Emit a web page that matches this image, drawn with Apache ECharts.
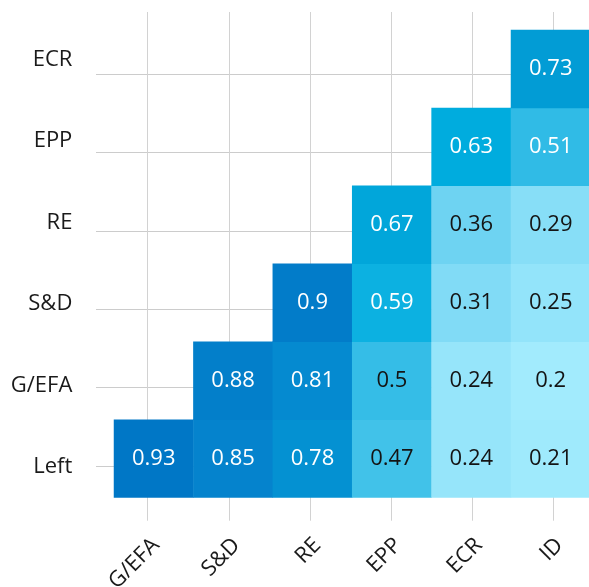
<!DOCTYPE html>
<html>
<head>
<meta charset="utf-8">
<script src="https://cdn.jsdelivr.net/npm/echarts@6/dist/echarts.min.js"></script>
<style>
html,body{margin:0;padding:0;background:#fff;}
#chart{width:589px;height:587px;}
</style>
</head>
<body>
<div id="chart"></div>
<script>
const xCategories = ['G/EFA', 'S&D', 'RE', 'EPP', 'ECR', 'ID'];
const yCategories = ['Left', 'G/EFA', 'S&D', 'RE', 'EPP', 'ECR'];
const rowLeft = [0.93, 0.85, 0.78, 0.47, 0.24, 0.21];
const rowGEFA = [null, 0.88, 0.81, 0.5, 0.24, 0.2];
const rowSD   = [null, null, 0.9, 0.59, 0.31, 0.25];
const rowRE   = [null, null, null, 0.67, 0.36, 0.29];
const rowEPP  = [null, null, null, null, 0.63, 0.51];
const rowECR  = [null, null, null, null, null, 0.73];
const rows = [rowLeft, rowGEFA, rowSD, rowRE, rowEPP, rowECR];

const FONT = '"Open Sans", sans-serif';
const data = [];
rows.forEach((row, yi) => {
  row.forEach((v, xi) => {
    if (v === null) return;
    data.push({
      value: [xi, yi, v],
      label: { color: v > 0.505 ? '#ffffff' : '#141414' }
    });
  });
});

const hiddenAxis = (extra) => Object.assign({
  axisLine: { show: false }, axisTick: { show: false },
  axisLabel: { show: false }, splitLine: { show: false }
}, extra);

const chart = echarts.init(document.getElementById('chart'), null, { renderer: 'canvas' });
chart.setOption({
  animation: false,
  backgroundColor: '#ffffff',
  textStyle: { fontFamily: FONT },
  grid: [
    { left: 114, width: 476.4, top: 30, height: 467.6, outerBoundsMode: 'none', containLabel: false },
    { left: 147.7, width: 405.6, top: 12, height: 508.7, outerBoundsMode: 'none', containLabel: false },
    { left: 96, right: 0, top: 74, height: 392, outerBoundsMode: 'none', containLabel: false },
    { left: 115.65, width: 484.2, top: 18.75, height: 489, outerBoundsMode: 'none', containLabel: false }
  ],
  xAxis: [
    hiddenAxis({ type: 'category', data: xCategories, gridIndex: 0 }),
    hiddenAxis({ type: 'category', data: xCategories, gridIndex: 1, boundaryGap: false,
      splitLine: { show: true, interval: 0, lineStyle: { color: '#d2d2d2', width: 1 } } }),
    hiddenAxis({ type: 'value', gridIndex: 2, min: 0, max: 1 }),
    hiddenAxis({ type: 'category', data: xCategories, gridIndex: 3,
      axisLabel: { show: true, interval: 0, rotate: 45, margin: 34, fontSize: 22,
        fontFamily: FONT, color: '#1a1a1a', hideOverlap: false } })
  ],
  yAxis: [
    hiddenAxis({ type: 'category', data: yCategories, gridIndex: 0 }),
    hiddenAxis({ type: 'value', gridIndex: 1, min: 0, max: 1 }),
    hiddenAxis({ type: 'category', data: yCategories, gridIndex: 2, boundaryGap: false,
      splitLine: { show: true, interval: 0, lineStyle: { color: '#cccccc', width: 1 } } }),
    hiddenAxis({ type: 'category', data: yCategories, gridIndex: 3,
      axisLabel: { show: true, interval: 0, margin: 43.3, fontSize: 22,
        fontFamily: FONT, color: '#1a1a1a', hideOverlap: false } })
  ],
  visualMap: {
    show: false,
    seriesIndex: 0,
    dimension: 2,
    min: 0.2,
    max: 0.93,
    inRange: {
      color: ['#a2ebfd', '#83dcf6', '#5ccbee', '#2fbbe6', '#00aedf', '#029ed6', '#0687cf', '#0077c6']
    }
  },
  series: [{
    type: 'heatmap',
    xAxisIndex: 0,
    yAxisIndex: 0,
    data: data,
    label: {
      show: true,
      fontSize: 22,
      fontFamily: FONT,
      formatter: (p) => String(p.value[2])
    },
    itemStyle: { borderWidth: 0 },
    emphasis: { disabled: true }
  }]
});
</script>
</body>
</html>
